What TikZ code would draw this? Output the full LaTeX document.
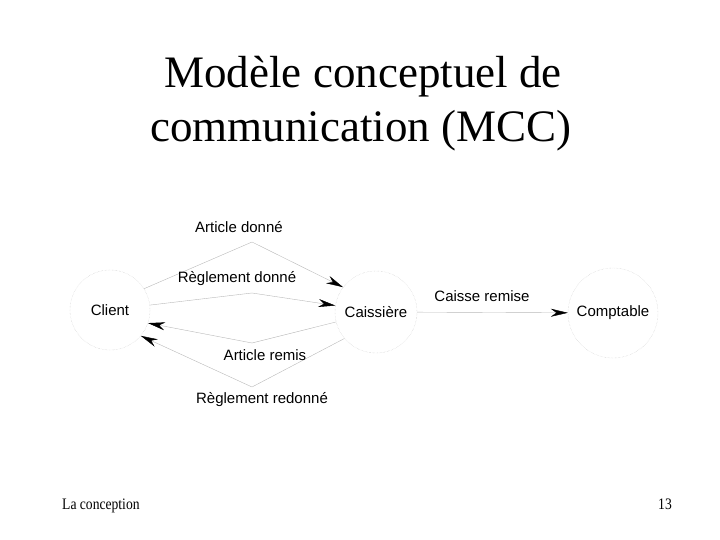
\documentclass[tikz,border=0pt]{standalone}
\usepackage{fontspec}
\setmainfont{Liberation Serif}
\newfontfamily\diagfont{Liberation Sans}
\usetikzlibrary{arrows.meta}

\begin{document}
\begin{tikzpicture}[x=1pt,y=-1pt,
		actor/.style = {circle, draw = gray!45, densely dotted, minimum size = 80pt, inner sep = 0pt, font = \diagfont\fontsize{15}{17}\selectfont},
		flow/.style = {draw = gray!55, -{Stealth[length=17pt,width=8pt,black]}},
		lbl/.style = {font = \diagfont\fontsize{15}{17}\selectfont, inner sep = 1pt}]
		\useasboundingbox (0,0) rectangle (720,540);
		% titre
		\node[anchor = base, font = \fontsize{45}{54}\selectfont] (title1) at (363,88) {Modèle conceptuel de};
		\node[anchor = base, font = \fontsize{45}{54}\selectfont] (title2) at (361,142) {communication (MCC)};
		% acteurs
		\node[actor] (client) at (110,310) {Client};
		\node[actor, minimum size = 82pt] (caissiere) at (376,312) {Caissière};
		\node[actor, minimum size = 90pt] (comptable) at (613,313) {Comptable};
		% points de passage
		\coordinate (ad) at (252,242);
		\coordinate (rd) at (252,293);
		\coordinate (ar) at (252,343);
		\coordinate (rr) at (252,387);
		% flux
		\draw[flow] (client.32) -- (ad) -- (caissiere.143);
		\draw[flow] (client.7) -- (rd) -- (caissiere.171);
		\draw[flow] (caissiere.194) -- (ar) -- (client.-19);
		\draw[flow] (caissiere.220) -- (rr) -- (client.-40);
		\draw[flow] (caissiere) -- (comptable);
		% libelles
		\node[lbl] (ladonne) at (239,227) {Article donné};
		\node[lbl] (lrdonne) at (237,279) {Règlement donné};
		\node[lbl] (laremis) at (265,355) {Article remis};
		\node[lbl] (lrredonne) at (262,400) {Règlement redonné};
		\node[lbl] (lcremise) at (482,296) {Caisse remise};
		% pied de page
		\node[anchor = base west, inner sep = 0pt, font = \fontsize{16}{18}\selectfont] (footl) at (62,509) {\scalebox{0.85}[1]{La conception}};
		\node[anchor = base east, inner sep = 0pt, font = \fontsize{16}{18}\selectfont] (footr) at (672,509) {\scalebox{0.85}[1]{13}};
	\end{tikzpicture}
\end{document}
